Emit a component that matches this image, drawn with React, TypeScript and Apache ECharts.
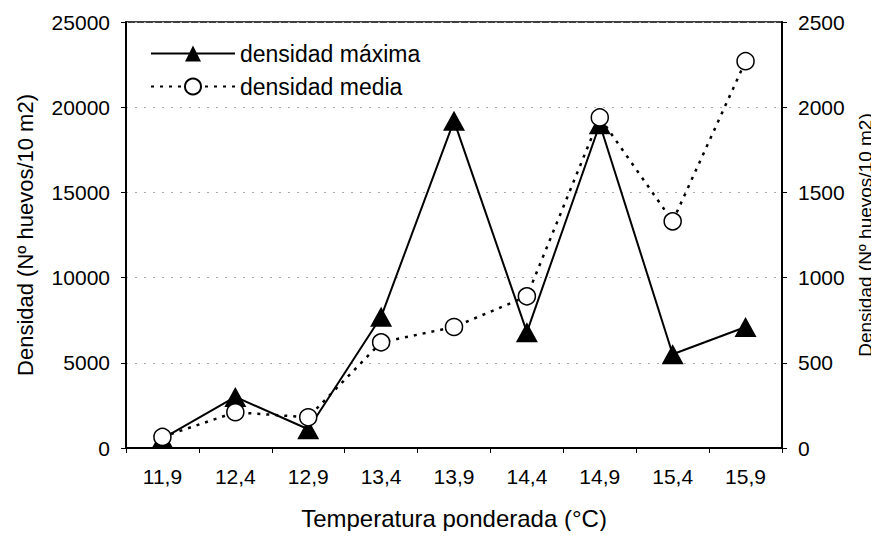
import React, { useEffect, useRef } from "react";
import * as echarts from "echarts";

const categories = ["11,9", "12,4", "12,9", "13,4", "13,9", "14,4", "14,9", "15,4", "15,9"];
const densidadMaxima = [550, 3000, 1100, 7700, 19200, 6800, 19000, 5500, 7100];
const densidadMedia = [65, 210, 180, 620, 710, 890, 1940, 1330, 2270];
const leftTicks = { min: 0, max: 25000, interval: 5000 };
const rightTicks = { min: 0, max: 2500, interval: 500 };

const FONT = "'Liberation Sans', Arial, sans-serif";

export default function App() {
  const ref = useRef<HTMLDivElement>(null);
  useEffect(() => {
    if (!ref.current) return;
    const chart = echarts.init(ref.current, undefined, { renderer: "svg" });
    chart.setOption({
      animation: false,
      backgroundColor: "#fff",
      textStyle: { fontFamily: FONT, color: "#000" },
      grid: {
        left: 126,
        right: 97,
        top: 22,
        bottom: 91,
        containLabel: false,
        outerBoundsMode: "none",
        show: true,
        borderColor: "#000",
        borderWidth: 1.5,
        backgroundColor: "transparent",
      },
      legend: {
        orient: "vertical",
        left: 145,
        top: 37,
        itemWidth: 84,
        itemHeight: 20,
        itemGap: 10,
        textStyle: { fontFamily: FONT, fontSize: 23, color: "#000" },
        data: ["densidad máxima", "densidad media"],
      },
      xAxis: {
        type: "category",
        data: categories,
        boundaryGap: true,
        name: "Temperatura ponderada (°C)",
        nameLocation: "middle",
        nameGap: 58,
        nameTextStyle: { fontFamily: FONT, fontSize: 24, color: "#000" },
        axisLine: { lineStyle: { color: "#000", width: 2 } },
        axisTick: { show: true, length: 5, inside: false, lineStyle: { color: "#000" } },
        axisLabel: { fontFamily: FONT, fontSize: 21, color: "#000", margin: 18 },
        splitLine: { show: false },
      },
      yAxis: [
        {
          type: "value",
          min: leftTicks.min,
          max: leftTicks.max,
          interval: leftTicks.interval,
          position: "left",
          name: "Densidad (Nº huevos/10 m2)",
          nameLocation: "middle",
          nameGap: 90,
          nameTextStyle: { fontFamily: FONT, fontSize: 22, color: "#000" },
          axisLine: { show: true, lineStyle: { color: "#000", width: 2 } },
          axisTick: { show: true, length: 5, lineStyle: { color: "#000" } },
          axisLabel: {
            fontFamily: FONT,
            fontSize: 21,
            color: "#000",
            margin: 16,
            formatter: (v: number) => String(v),
          },
          splitLine: { show: true, lineStyle: { color: "#aaa", width: 1, type: [2, 7] } },
        },
        {
          type: "value",
          min: rightTicks.min,
          max: rightTicks.max,
          interval: rightTicks.interval,
          position: "right",
          name: "Densidad (Nº huevos/10 m2)",
          nameLocation: "middle",
          nameGap: 74,
          nameTextStyle: { fontFamily: FONT, fontSize: 19, color: "#000" },
          axisLine: { show: true, lineStyle: { color: "#000", width: 2 } },
          axisTick: { show: true, length: 5, lineStyle: { color: "#000" } },
          axisLabel: {
            fontFamily: FONT,
            fontSize: 21,
            color: "#000",
            margin: 16,
            formatter: (v: number) => String(v),
          },
          splitLine: { show: false },
        },
      ],
      series: [
        {
          name: "densidad máxima",
          type: "line",
          yAxisIndex: 0,
          data: densidadMaxima,
          symbol: "triangle",
          symbolSize: [22, 20],
          showAllSymbol: true,
          lineStyle: { color: "#000", width: 2 },
          itemStyle: { color: "#000", borderColor: "#000", borderWidth: 0 },
          z: 2,
        },
        {
          name: "densidad media",
          type: "line",
          yAxisIndex: 1,
          data: densidadMedia,
          symbol: "circle",
          symbolSize: 17,
          showAllSymbol: true,
          lineStyle: { color: "#000", width: 2.5, type: [3, 6] },
          itemStyle: { color: "#fff", borderColor: "#000", borderWidth: 1.5 },
          z: 3,
        },
      ],
    });
    return () => chart.dispose();
  }, []);
  return <div ref={ref} style={{ width: 879, height: 539, margin: -8 }} />;
}
